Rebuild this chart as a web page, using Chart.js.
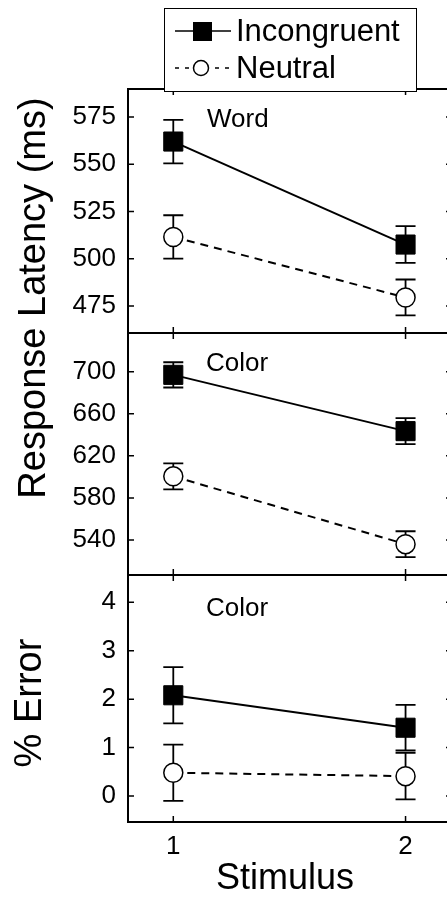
<!DOCTYPE html>
<html><head><meta charset="utf-8">
<script src="https://cdn.jsdelivr.net/npm/chart.js@4/dist/chart.umd.min.js"></script>
<style>
html,body{margin:0;padding:0;width:447px;height:899px;overflow:hidden;background:#fff;}
body{position:relative;font-family:"Liberation Sans",Arial,Helvetica,sans-serif;color:#000;}
.box{position:absolute;left:0;width:452px;}
.lbl{position:absolute;white-space:nowrap;line-height:1;}
.rot{transform:translate(-50%,-50%) rotate(-90deg);}
#legend{position:absolute;left:164px;top:8px;width:253px;height:84px;box-sizing:border-box;border:1.5px solid #000;background:#fff;z-index:2;}
#legend svg{position:absolute;left:0;top:0;}
#legend .t{position:absolute;font-size:31px;line-height:31px;white-space:nowrap;}
</style></head><body>
<div class="box" style="top:0px;height:345px"><canvas id="c1"></canvas></div>
<div class="box" style="top:323px;height:262px"><canvas id="c2"></canvas></div>
<div class="box" style="top:565px;height:334px"><canvas id="c3"></canvas></div>

<div id="legend">
  <svg width="250" height="81">
    <line x1="10" y1="22" x2="66" y2="22" stroke="#000" stroke-width="1.5"/>
    <rect x="28" y="13" width="19" height="19" fill="#000"/>
    <line x1="10" y1="59" x2="66" y2="59" stroke="#000" stroke-width="1.5" stroke-dasharray="4,6"/>
    <circle cx="36" cy="59" r="7.5" fill="#fff" stroke="#000" stroke-width="1.5"/>
  </svg>
  <div class="t" style="left:71px;top:6px">Incongruent</div>
  <div class="t" style="left:71px;top:43px">Neutral</div>
</div>

<div class="lbl" style="left:207px;top:105px;font-size:26px">Word</div>
<div class="lbl" style="left:206px;top:349px;font-size:26px">Color</div>
<div class="lbl" style="left:206px;top:594px;font-size:26px">Color</div>
<div class="lbl rot" style="left:32px;top:298px;font-size:38px">Response Latency (ms)</div>
<div class="lbl rot" style="left:28px;top:703px;font-size:38px">% Error</div>
<div class="lbl" style="left:285px;top:877px;font-size:36px;transform:translate(-50%,-50%)">Stimulus</div>

<script>
// ---- data ----
const stimulus = [1, 2];
const xTicks = [1, 2];

const wordIncongruent = [562, 507.5];
const wordIncongruentErr = [11.5, 9.7];
const wordNeutral = [511.5, 479.5];
const wordNeutralErr = [11.5, 9.5];
const wordTicks = [475, 500, 525, 550, 575];

const colorIncongruent = [697, 643.5];
const colorIncongruentErr = [12, 12.3];
const colorNeutral = [600.5, 536];
const colorNeutralErr = [12.3, 12.3];
const colorTicks = [540, 580, 620, 660, 700];

const errorIncongruent = [2.08, 1.41];
const errorIncongruentErr = [0.58, 0.47];
const errorNeutral = [0.48, 0.41];
const errorNeutralErr = [0.58, 0.48];
const errorTicks = [0, 1, 2, 3, 4];

const seriesNames = ['Incongruent', 'Neutral'];

// ---- plugins ----
const errorBars = {
  id: 'errorBars',
  beforeDatasetsDraw(chart) {
    const ctx = chart.ctx, x = chart.scales.x, y = chart.scales.y;
    ctx.save();
    ctx.strokeStyle = '#000';
    ctx.lineWidth = 1.8;
    chart.data.datasets.forEach(ds => {
      ds.data.forEach((p, i) => {
        const e = ds.errors[i];
        const px = x.getPixelForValue(p.x);
        const top = y.getPixelForValue(p.y + e);
        const bot = y.getPixelForValue(p.y - e);
        ctx.beginPath();
        ctx.moveTo(px, top); ctx.lineTo(px, bot);
        ctx.moveTo(px - 10, top); ctx.lineTo(px + 10, top);
        ctx.moveTo(px - 10, bot); ctx.lineTo(px + 10, bot);
        ctx.stroke();
      });
    });
    ctx.restore();
  }
};

const frameTicks = {
  id: 'frameTicks',
  afterDraw(chart) {
    const ctx = chart.ctx, a = chart.chartArea, x = chart.scales.x, y = chart.scales.y;
    const tl = 6;
    ctx.save();
    ctx.strokeStyle = '#000';
    ctx.lineWidth = 2;
    ctx.strokeRect(a.left, a.top, a.right - a.left, a.bottom - a.top);
    ctx.lineWidth = 1.5;
    ctx.beginPath();
    y.ticks.forEach(t => {
      const py = y.getPixelForValue(t.value);
      ctx.moveTo(a.left, py); ctx.lineTo(a.left + tl, py);
      ctx.moveTo(a.right, py); ctx.lineTo(a.right - tl, py);
    });
    xTicks.forEach(v => {
      const px = x.getPixelForValue(v);
      ctx.moveTo(px, a.top); ctx.lineTo(px, a.top + tl);
      ctx.moveTo(px, a.bottom); ctx.lineTo(px, a.bottom - tl);
    });
    ctx.stroke();
    ctx.restore();
  }
};

function pts(vals) { return stimulus.map((s, i) => ({ x: s, y: vals[i] })); }

function makePanel(id, inc, incErr, neu, neuErr, yMin, yMax, yTicks, pad, showX) {
  return new Chart(document.getElementById(id), {
    type: 'line',
    data: {
      datasets: [
        {
          label: seriesNames[0], data: pts(inc), errors: incErr,
          borderColor: '#000', borderWidth: 2, backgroundColor: '#000',
          pointStyle: 'rect', pointRadius: 13.5, pointBorderWidth: 1,
          pointBackgroundColor: '#000', pointBorderColor: '#000', clip: false
        },
        {
          label: seriesNames[1], data: pts(neu), errors: neuErr,
          borderColor: '#000', borderWidth: 2, borderDash: [8, 6],
          pointStyle: 'circle', pointRadius: 9.5, pointBorderWidth: 1.5,
          pointBackgroundColor: '#fff', pointBorderColor: '#000', clip: false
        }
      ]
    },
    options: {
      responsive: true, maintainAspectRatio: false, animation: false,
      devicePixelRatio: 1,
      layout: { padding: pad, autoPadding: false },
      plugins: { legend: { display: false }, tooltip: { enabled: false }, title: { display: false } },
      scales: {
        x: {
          type: 'linear', min: 0.805, max: 2.2, display: showX,
          grid: { display: false, drawTicks: false }, border: { display: false },
          afterBuildTicks: s => { s.ticks = xTicks.map(v => ({ value: v })); },
          afterFit: s => { if (showX) s.height = 77; s.paddingLeft = 0; s.paddingRight = 0; },
          ticks: { color: '#000', padding: 9, font: { family: 'Liberation Sans', size: 26 } }
        },
        y: {
          type: 'linear', min: yMin, max: yMax,
          grid: { display: false, drawTicks: false }, border: { display: false },
          afterBuildTicks: s => { s.ticks = yTicks.map(v => ({ value: v })); },
          afterFit: s => { s.width = 128; s.paddingTop = 0; s.paddingBottom = 0; },
          ticks: { color: '#000', padding: 12, font: { family: 'Liberation Sans', size: 26 } }
        }
      }
    },
    plugins: [errorBars, frameTicks]
  });
}

makePanel('c1', wordIncongruent, wordIncongruentErr, wordNeutral, wordNeutralErr,
  460.7, 589.8, wordTicks, { top: 89, bottom: 12, left: 0, right: 0 }, false);
makePanel('c2', colorIncongruent, colorIncongruentErr, colorNeutral, colorNeutralErr,
  506.7, 736.8, colorTicks, { top: 10, bottom: 10, left: 0, right: 0 }, false);
makePanel('c3', errorIncongruent, errorIncongruentErr, errorNeutral, errorNeutralErr,
  -0.537, 4.564, errorTicks, { top: 10, bottom: 0, left: 0, right: 0 }, true);
</script>
</body></html>
